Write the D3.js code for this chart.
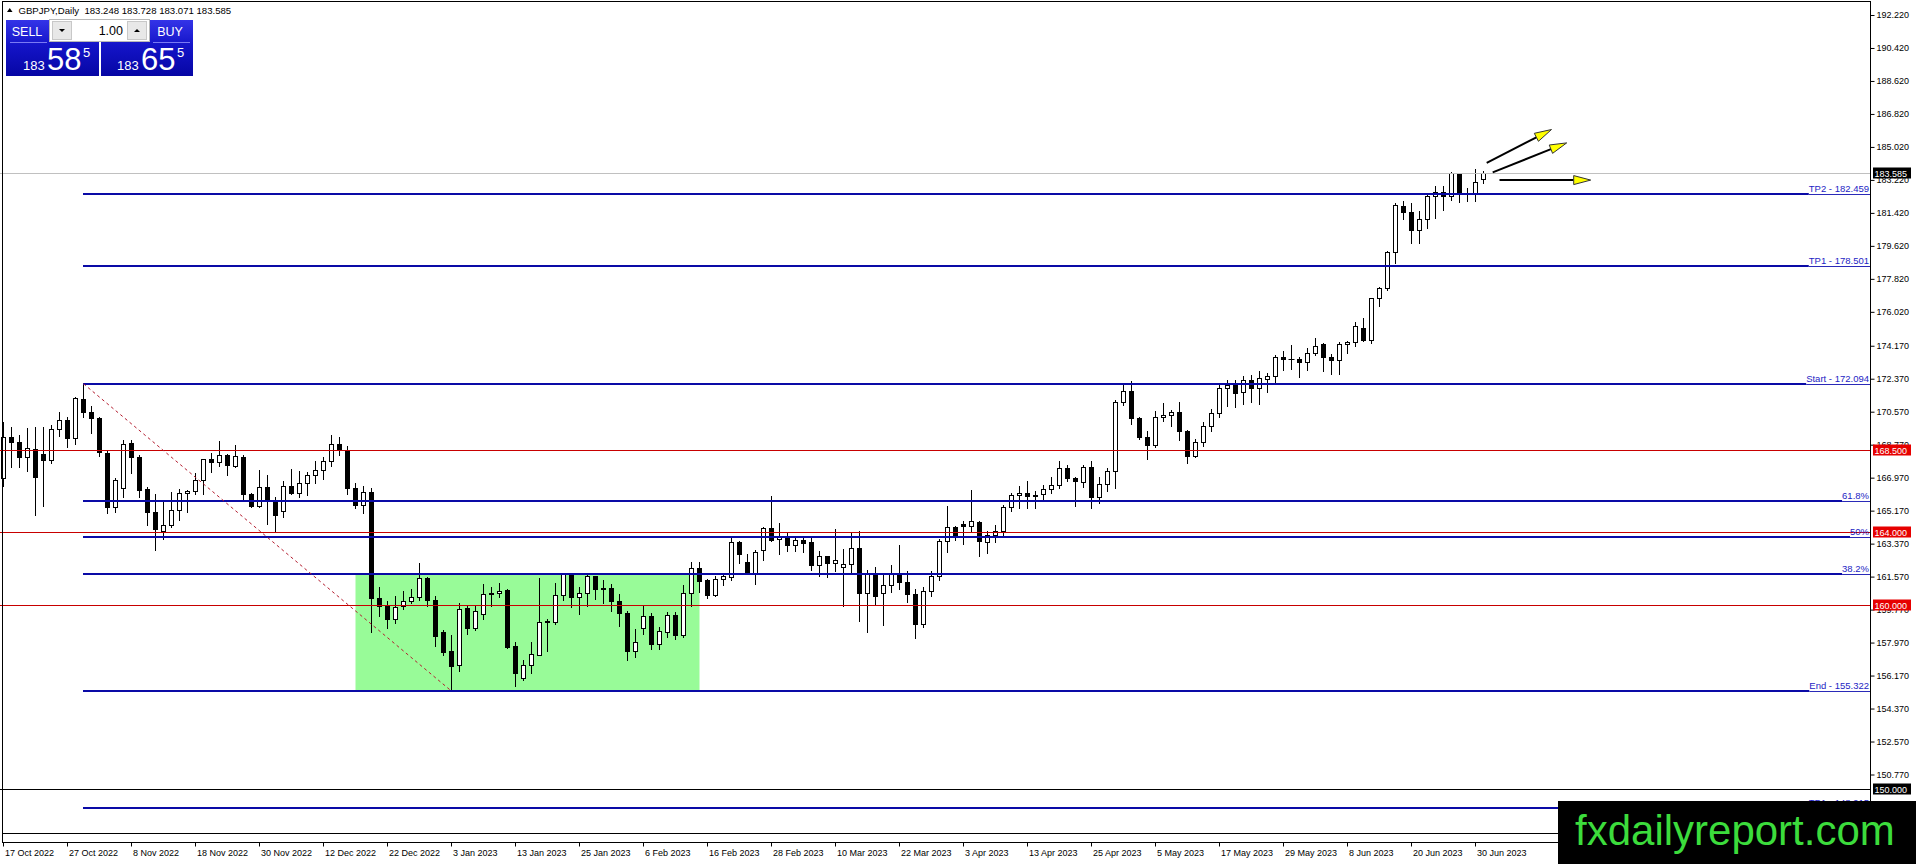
<!DOCTYPE html>
<html>
<head>
<meta charset="utf-8">
<script src="https://cdnjs.cloudflare.com/ajax/libs/d3/7.8.5/d3.min.js"></script>
<style>
  html, body { margin: 0; padding: 0; background: #fff; overflow: hidden; }
  svg { display: block; }
  text { font-family: "Liberation Sans", Arial, sans-serif; }
</style>
</head>
<body>
<script>
// GBPJPY daily candles, 17 Oct 2022 .. 3 Jul 2023
const opens = [
  166.95,169.21,168.93,168.08,168.55,168.26,167.94,169.62,170.11,169.13,
  171.26,170.57,170.20,168.33,165.35,166.41,168.88,168.12,166.37,165.12,
  164.05,164.37,165.21,166.12,166.23,166.86,168.01,167.81,168.22,167.62,
  168.12,166.08,165.45,166.48,165.68,165.17,166.52,166.12,166.66,167.10,
  167.40,167.90,168.80,168.50,166.40,165.50,166.20,160.41,159.96,159.27,
  159.96,160.23,160.47,161.50,160.30,158.56,157.52,156.76,159.83,158.78,
  159.52,160.67,160.69,160.85,157.76,156.05,156.72,157.31,159.11,159.11,
  160.54,161.72,160.45,160.67,161.58,160.87,160.96,160.23,159.58,157.50,
  158.78,159.40,157.90,158.54,159.49,158.36,160.69,162.05,161.36,160.56,
  161.43,161.54,163.48,162.36,161.76,163.03,164.23,163.61,163.79,163.27,
  163.57,163.45,162.23,162.67,162.32,162.09,162.27,163.14,160.67,161.76,
  160.67,161.12,161.76,161.30,160.60,159.00,160.80,161.60,163.54,164.30,
  164.45,164.34,164.56,163.45,163.83,164.08,165.39,166.01,166.14,166.03,
  166.08,166.35,166.57,167.50,166.97,166.72,167.57,165.90,166.63,167.35,
  171.11,171.71,170.20,169.21,168.75,170.26,170.40,170.57,169.53,168.13,
  168.93,169.80,170.50,171.86,172.02,171.62,172.29,171.89,172.33,172.51,
  173.57,173.44,173.46,173.27,173.78,174.29,173.57,173.38,174.29,174.40,
  175.13,174.51,176.76,177.31,179.29,181.80,181.49,180.51,181.07,182.34,
  182.58,182.32,183.57,182.47,182.47,183.248
];
const highs = [
  169.99,169.75,169.31,169.68,169.75,169.75,169.86,170.57,170.26,171.35,
  172.094,170.90,170.26,168.40,166.94,169.02,169.02,168.22,166.45,166.06,
  165.63,166.17,166.35,166.30,167.21,168.01,168.30,168.99,168.26,168.77,
  168.22,166.12,167.39,167.14,165.90,166.77,167.43,167.35,167.30,167.90,
  168.10,169.30,169.20,168.70,166.70,166.50,166.40,161.03,160.23,160.49,
  160.76,160.90,162.30,161.54,160.49,158.63,158.36,160.12,159.99,159.99,
  161.18,160.99,161.21,160.90,158.00,157.04,157.98,161.50,159.25,161.21,
  161.76,161.76,160.99,161.69,161.63,161.36,161.14,160.63,159.70,158.73,
  159.94,159.58,158.82,159.63,159.63,161.12,162.36,162.36,161.43,161.63,
  161.76,163.68,163.54,162.81,163.03,164.30,165.99,164.48,163.94,163.68,
  163.76,163.72,162.96,162.72,164.17,163.05,164.03,164.08,161.94,162.09,
  161.69,162.23,163.32,161.90,160.90,161.00,161.90,163.62,165.45,164.35,
  164.60,166.30,164.63,164.08,164.36,165.46,166.12,166.54,166.81,166.26,
  166.57,166.99,167.90,167.68,166.99,167.68,167.90,166.99,167.50,171.20,
  172.08,172.26,170.26,169.50,170.59,171.02,170.66,171.11,169.57,169.08,
  170.00,170.70,172.00,172.29,172.29,172.53,172.59,172.77,172.69,173.68,
  173.89,174.22,173.57,174.07,174.58,174.33,173.71,174.40,174.44,175.44,
  175.67,176.80,177.38,179.34,181.98,182.07,181.98,181.52,182.47,182.89,
  182.89,183.67,183.60,182.76,183.79,183.728
];
const lows = [
  166.53,167.53,167.53,167.35,164.94,165.45,167.75,169.22,168.66,168.81,
  170.26,169.39,168.17,165.03,165.08,165.94,167.21,165.90,164.36,163.03,
  163.63,164.30,164.66,165.08,166.06,166.06,167.26,167.62,167.14,167.57,
  165.81,165.35,165.39,164.45,163.99,164.81,166.06,165.90,166.00,166.70,
  166.90,167.60,168.20,166.10,165.30,165.05,158.54,159.40,158.78,159.03,
  159.81,160.12,160.30,159.94,157.76,157.31,155.322,156.42,158.45,158.67,
  159.27,159.94,160.45,157.67,155.58,155.95,156.31,157.28,157.51,159.00,
  160.30,159.90,159.51,159.94,160.34,160.12,159.69,158.85,157.00,157.20,
  158.45,157.60,157.60,158.27,158.18,158.27,159.99,160.72,160.41,160.49,
  161.09,161.36,162.30,161.72,161.14,162.50,163.54,162.78,162.99,162.99,
  162.90,161.94,161.63,161.54,161.87,159.99,161.69,159.14,158.54,160.09,
  158.91,160.72,160.90,160.20,158.22,158.80,160.50,161.40,162.90,163.57,
  163.36,164.08,162.67,162.85,163.45,163.76,165.14,165.32,165.34,165.34,
  165.72,166.12,166.41,166.81,165.45,166.48,165.34,165.57,166.23,166.41,
  170.95,169.90,169.06,167.99,168.62,170.08,169.81,169.02,167.75,168.08,
  168.70,169.50,170.30,170.90,170.80,171.00,171.10,171.00,171.62,172.11,
  172.84,172.89,172.44,172.84,173.68,172.77,172.62,172.62,173.80,174.18,
  174.44,174.33,176.34,177.20,178.71,181.09,179.80,179.80,180.61,181.16,
  181.60,182.14,182.03,182.07,182.07,183.071
];
const closes = [
  169.21,168.91,168.08,168.59,166.99,167.94,169.62,170.11,169.13,171.31,
  170.53,170.20,168.38,165.35,166.86,168.81,168.08,166.30,165.08,164.16,
  164.39,165.21,166.12,166.26,166.86,167.97,167.81,168.21,167.66,168.13,
  166.08,165.45,166.44,165.68,164.94,166.52,166.12,166.66,167.10,167.40,
  167.90,168.80,168.50,166.40,165.50,166.20,160.39,159.96,159.25,159.90,
  160.25,160.47,161.50,160.30,158.31,157.45,156.69,159.80,158.76,159.72,
  160.63,160.63,160.81,157.72,156.31,156.72,157.32,159.11,159.16,160.58,
  161.69,160.45,160.67,161.58,160.89,160.96,160.23,159.58,157.50,158.00,
  159.40,157.90,158.58,159.49,158.36,160.69,162.05,161.32,160.54,161.45,
  161.58,163.48,162.81,161.76,162.94,164.23,163.59,163.79,163.27,163.57,
  163.39,162.18,162.67,162.30,162.45,162.27,163.14,160.67,161.76,160.52,
  161.12,161.76,161.30,160.60,159.00,160.80,161.60,163.54,164.30,163.76,
  164.34,164.59,163.50,163.86,164.05,165.39,166.01,166.14,165.95,165.95,
  166.35,166.57,167.50,166.95,166.77,167.57,165.90,166.63,167.35,171.11,
  171.71,170.20,169.17,168.75,170.26,170.40,170.57,169.53,168.13,168.93,
  169.80,170.50,171.86,172.02,171.57,172.29,171.89,172.40,172.51,173.57,
  173.44,173.42,173.27,173.78,174.17,173.53,173.38,174.29,174.40,175.26,
  174.51,176.76,177.31,179.29,181.85,181.49,180.51,181.07,182.34,182.58,
  182.32,183.57,182.47,182.50,183.12,183.585
];

// time scale labels, one every 8 bars
const dateLabels = [
  "17 Oct 2022","27 Oct 2022","8 Nov 2022","18 Nov 2022","30 Nov 2022",
  "12 Dec 2022","22 Dec 2022","3 Jan 2023","13 Jan 2023","25 Jan 2023",
  "6 Feb 2023","16 Feb 2023","28 Feb 2023","10 Mar 2023","22 Mar 2023",
  "3 Apr 2023","13 Apr 2023","25 Apr 2023","5 May 2023","17 May 2023",
  "29 May 2023","8 Jun 2023","20 Jun 2023","30 Jun 2023"
];
const priceTicks = [
  192.22,190.42,188.62,186.82,185.02,183.22,181.42,179.62,177.82,176.02,
  174.17,172.37,170.57,168.77,166.97,165.17,163.37,161.57,159.77,157.97,
  156.17,154.37,152.57,150.77
];

// drawn objects
const fibValues = [182.459, 178.501, 172.094, 165.687, 163.708, 161.729, 155.322, 148.915];
const fibNames  = ["TP2 - 182.459","TP1 - 178.501","Start - 172.094","61.8%","50%","38.2%","End - 155.322","TP1 - 148.915"];
const redLevels = [168.5, 164.0, 160.0];
const blackLevels = [150.0];
const fibStartBar = 10;
const swingBars = [10, 56];
const swingPrices = [172.094, 155.322];
const boxBars = [44, 87];
const boxPrices = [161.729, 155.322];
const arrowFrom = [[185.4, 184.15], [186.15, 183.63], [187.0, 183.21]];
const arrowTo   = [[193.5, 185.97], [195.4, 185.24], [198.4, 183.21]];

const symbolName = "GBPJPY,Daily";
const bidPrice = 183.585;
const askPrice = 183.655;
const lotSize = "1.00";

const W = 1916, H = 864;
const axisX = 1870, chartBottom = 833, timeAxisY = 842;

const svg = d3.select("body").append("svg")
  .attr("width", W)
  .attr("height", H)
  .style("background", "#fff");

let x = d3.scaleLinear().domain([0, 233]).range([3.5, 3.5 + 233 * 8]);
let y = d3.scaleLinear().domain([150.77, 192.22]).range([774.5, 15]);
const py = v => Math.round(y(v));

let bars = d3.range(opens.length).map(i => ({ i: i, o: opens[i], h: highs[i], l: lows[i], c: closes[i] }));

let chart = svg.append("g");

// green rectangle (background object)
chart.append("rect")
  .attr("x", x(boxBars[0]))
  .attr("y", y(boxPrices[0]))
  .attr("width", x(boxBars[1]) - x(boxBars[0]))
  .attr("height", y(boxPrices[1]) - y(boxPrices[0]))
  .attr("fill", "#98fb98");

// wicks
chart.selectAll(".wick")
  .data(bars)
  .enter()
    .append("line")
      .attr("class", "wick")
      .attr("x1", d => x(d.i))
      .attr("x2", d => x(d.i))
      .attr("y1", d => py(d.h))
      .attr("y2", d => py(d.l) + 1)
      .attr("stroke", "#000")
      .attr("stroke-width", 1);

// bodies
bars.forEach(d => {
  let top = py(Math.max(d.o, d.c)) + 0.5;
  let bot = py(Math.min(d.o, d.c)) + 0.5;
  if (bot - top < 1) {
    chart.append("line")
      .attr("x1", x(d.i) - 3).attr("x2", x(d.i) + 3)
      .attr("y1", top).attr("y2", top)
      .attr("stroke", "#000");
  } else {
    chart.append("rect")
      .attr("x", x(d.i) - 2)
      .attr("y", top)
      .attr("width", 4)
      .attr("height", bot - top)
      .attr("fill", d.c >= d.o ? "#fff" : "#000")
      .attr("stroke", "#000")
      .attr("stroke-width", 1);
  }
});

// horizontal price lines
chart.selectAll(".red")
  .data(redLevels)
  .enter()
    .append("line")
      .attr("x1", 0).attr("x2", axisX)
      .attr("y1", d => py(d) + 0.5).attr("y2", d => py(d) + 0.5)
      .attr("stroke", "#c80000");

chart.selectAll(".blk")
  .data(blackLevels)
  .enter()
    .append("line")
      .attr("x1", 0).attr("x2", axisX)
      .attr("y1", d => py(d) + 0.5).attr("y2", d => py(d) + 0.5)
      .attr("stroke", "#000");

chart.append("line")
  .attr("x1", 0).attr("x2", axisX)
  .attr("y1", py(bidPrice) + 0.5).attr("y2", py(bidPrice) + 0.5)
  .attr("stroke", "#c0c0c0");

// fibo levels with labels
fibValues.forEach((v, k) => {
  let label = chart.append("text")
    .attr("x", axisX - 1)
    .attr("y", py(v) - 2)
    .attr("text-anchor", "end")
    .attr("font-size", "9.5px")
    .attr("fill", "#2424c4")
    .text(fibNames[k]);
  let tw = label.node().getComputedTextLength();
  chart.append("line")
    .attr("x1", x(fibStartBar) - 0.5).attr("x2", axisX - 1 - tw)
    .attr("y1", py(v)).attr("y2", py(v))
    .attr("stroke", "#0a0aa6")
    .attr("stroke-width", 2);
  chart.append("line")
    .attr("x1", axisX - 1 - tw).attr("x2", axisX)
    .attr("y1", py(v) + 0.5).attr("y2", py(v) + 0.5)
    .attr("stroke", "#2a2ab8")
    .attr("stroke-width", 1);
});

// dashed swing line
chart.append("line")
  .attr("x1", x(swingBars[0])).attr("y1", y(swingPrices[0]))
  .attr("x2", x(swingBars[1])).attr("y2", y(swingPrices[1]))
  .attr("stroke", "#b41e30")
  .attr("stroke-width", 1)
  .attr("stroke-dasharray", "3,3");

// arrows
arrowFrom.forEach((a, k) => {
  let x0 = x(a[0]), y0 = y(a[1]);
  let x1 = x(arrowTo[k][0]), y1 = y(arrowTo[k][1]);
  let ang = Math.atan2(y1 - y0, x1 - x0);
  let hl = 17, hw = 4.5;
  let bx = x1 - hl * Math.cos(ang), by = y1 - hl * Math.sin(ang);
  chart.append("line")
    .attr("x1", x0).attr("y1", y0)
    .attr("x2", bx).attr("y2", by)
    .attr("stroke", "#000")
    .attr("stroke-width", 2);
  let p = [
    [x1, y1],
    [bx + hw * Math.sin(ang), by - hw * Math.cos(ang)],
    [bx - hw * Math.sin(ang), by + hw * Math.cos(ang)]
  ];
  chart.append("path")
    .attr("d", "M" + p.map(q => q.join(",")).join("L") + "Z")
    .attr("fill", "#ffff00")
    .attr("stroke", "#333")
    .attr("stroke-width", 1);
});

// white out the axis zone
svg.append("rect")
  .attr("x", axisX + 0.5).attr("y", 0)
  .attr("width", W - axisX).attr("height", H)
  .attr("fill", "#fff");
svg.append("rect")
  .attr("x", 0).attr("y", chartBottom + 1)
  .attr("width", W).attr("height", H - chartBottom)
  .attr("fill", "#fff");

// price axis
let yAxis = d3.axisRight(y)
  .tickValues(priceTicks)
  .tickFormat(d3.format(".3f"))
  .tickSize(4)
  .tickPadding(2);

let ya = svg.append("g")
  .attr("transform", "translate(" + (axisX + 0.5) + ",0)")
  .call(yAxis);
ya.select(".domain").remove();
ya.selectAll("text").attr("font-size", "9px").attr("fill", "#000").style("font-family", "Liberation Sans, Arial, sans-serif");
ya.selectAll("line").attr("stroke", "#000");

// price tags
const tag = (v, bg) => {
  svg.append("rect")
    .attr("x", axisX + 3).attr("y", py(v) - 5.5)
    .attr("width", 38).attr("height", 11)
    .attr("fill", bg);
  svg.append("text")
    .attr("x", axisX + 4.5).attr("y", py(v) + 3.5)
    .attr("font-size", "9px")
    .attr("fill", "#fff")
    .text(d3.format(".3f")(v));
};
redLevels.forEach(v => tag(v, "#e60000"));
blackLevels.forEach(v => tag(v, "#000"));
tag(bidPrice, "#000");

// time axis
let tickIdx = dateLabels.map((d, k) => k * 8);
let xAxis = d3.axisBottom(x)
  .tickValues(tickIdx)
  .tickFormat((d, k) => dateLabels[k])
  .tickSize(4)
  .tickPadding(2);

let xa = svg.append("g")
  .attr("transform", "translate(0," + (timeAxisY + 0.5) + ")")
  .call(xAxis);
xa.select(".domain").remove();
xa.selectAll("text")
  .attr("text-anchor", "start")
  .attr("x", 1)
  .attr("dy", null)
  .attr("y", 13)
  .attr("font-size", "9px")
  .attr("fill", "#000")
  .style("font-family", "Liberation Sans, Arial, sans-serif");
xa.selectAll("line").attr("stroke", "#000").attr("transform", "translate(-0.5,0)");

// frames
svg.append("rect")
  .attr("x", 2.5).attr("y", 1.5)
  .attr("width", axisX - 2).attr("height", timeAxisY - 1)
  .attr("fill", "none")
  .attr("stroke", "#000");
svg.append("line")
  .attr("x1", 2.5).attr("x2", axisX + 0.5)
  .attr("y1", chartBottom + 0.5).attr("y2", chartBottom + 0.5)
  .attr("stroke", "#000");

// header line
svg.append("path")
  .attr("d", "M7,12L12.5,12L9.75,8Z")
  .attr("fill", "#000");
svg.append("text")
  .attr("x", 18.5).attr("y", 14)
  .attr("font-size", "9.6px")
  .attr("fill", "#000")
  .style("white-space", "pre")
  .text(symbolName + "  " + [opens, highs, lows, closes].map(a => d3.format(".3f")(a[a.length - 1])).join(" "));

// one click trading panel
let defs = svg.append("defs");
let grad = defs.append("linearGradient").attr("id", "btn").attr("x1", 0).attr("y1", 0).attr("x2", 0).attr("y2", 1);
grad.append("stop").attr("offset", "0%").attr("stop-color", "#3434e8");
grad.append("stop").attr("offset", "45%").attr("stop-color", "#1414c8");
grad.append("stop").attr("offset", "100%").attr("stop-color", "#0606a4");

svg.append("rect").attr("x", 6).attr("y", 20).attr("width", 93).attr("height", 56).attr("fill", "url(#btn)");
svg.append("rect").attr("x", 101).attr("y", 20).attr("width", 92).attr("height", 56).attr("fill", "url(#btn)");

svg.append("rect").attr("x", 49.5).attr("y", 19.5).attr("width", 100).attr("height", 22).attr("fill", "#fff").attr("stroke", "#b8b8b8");
svg.append("rect").attr("x", 52.5).attr("y", 21.5).attr("width", 19).attr("height", 18).attr("fill", "#e8e8e8").attr("stroke", "#c8c8c8");
svg.append("rect").attr("x", 127.5).attr("y", 21.5).attr("width", 19).attr("height", 18).attr("fill", "#e8e8e8").attr("stroke", "#c8c8c8");
svg.append("path").attr("d", "M59,29L65,29L62,32Z").attr("fill", "#000");
svg.append("path").attr("d", "M134,32L140,32L137,29Z").attr("fill", "#000");
svg.append("text").attr("x", 123).attr("y", 35).attr("text-anchor", "end").attr("font-size", "12.5px").attr("fill", "#000").text(lotSize);

svg.append("line").attr("x1", 10).attr("x2", 47).attr("y1", 42.5).attr("y2", 42.5).attr("stroke", "#7a7af4");
svg.append("line").attr("x1", 153).attr("x2", 190).attr("y1", 42.5).attr("y2", 42.5).attr("stroke", "#7a7af4");
svg.append("text").attr("x", 27).attr("y", 36).attr("text-anchor", "middle").attr("font-size", "12.5px").attr("fill", "#fff").text("SELL");
svg.append("text").attr("x", 170).attr("y", 36).attr("text-anchor", "middle").attr("font-size", "12.5px").attr("fill", "#fff").text("BUY");

const quote = (v, x0) => {
  let s = d3.format(".3f")(v);
  let big = s.split(".")[0], mid = s.split(".")[1].slice(0, 2), last = s.split(".")[1].slice(2);
  svg.append("text").attr("x", x0).attr("y", 70).attr("font-size", "13px").attr("fill", "#fff").text(big);
  svg.append("text").attr("x", x0 + 24).attr("y", 70).attr("font-size", "31px").attr("fill", "#fff").text(mid);
  svg.append("text").attr("x", x0 + 60).attr("y", 57).attr("font-size", "13px").attr("fill", "#fff").text(last);
};
quote(bidPrice, 23);
quote(askPrice, 117);

// watermark
svg.append("rect").attr("x", 1558).attr("y", 801).attr("width", W - 1558).attr("height", H - 801).attr("fill", "#000");
svg.append("text")
  .attr("x", 1575).attr("y", 845)
  .attr("font-size", "42px")
  .attr("fill", "#3cdc3c")
  .text("fxdailyreport.com");
</script>
</body>
</html>
